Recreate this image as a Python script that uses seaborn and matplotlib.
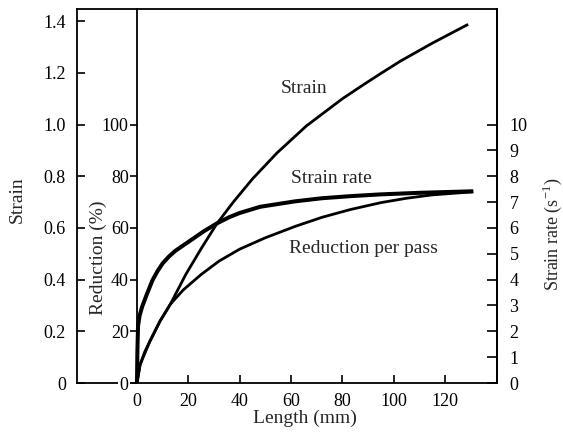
import numpy as np
import matplotlib
matplotlib.use("Agg")
import matplotlib.pyplot as plt
import seaborn as sns

# values (length in mm)
strain_len = [0, 1.2, 5, 9, 13, 19, 25, 31, 37.5, 45, 54.5, 66, 80, 88, 95, 102.5, 115, 129]
strain = [0, 0.071, 0.161, 0.24, 0.305, 0.42, 0.52, 0.615, 0.70, 0.79, 0.89, 0.995,
          1.10, 1.153, 1.198, 1.245, 1.315, 1.388]

red_len = [0, 1.2, 3, 5, 9, 13, 18, 25, 32, 40, 50, 61.6, 72, 83, 95, 105, 115, 131]
reduction = [0, 7.1, 12, 16.1, 24, 30.5, 36, 42, 47.2, 51.8, 56.2, 60.6, 64.1, 67.1,
             69.8, 71.5, 72.8, 74]

rate_len = [0, 0.15, 0.4, 1, 2, 3.9, 6, 8, 10, 12.5, 15, 20.6, 26, 31, 36, 40, 48,
            61.6, 72, 83, 95, 110, 131]
strain_rate = [0, 1.2, 2.2, 2.6, 2.95, 3.45, 3.97, 4.33, 4.63, 4.9, 5.12, 5.5, 5.87,
               6.17, 6.42, 6.58, 6.82, 7.03, 7.15, 7.23, 7.3, 7.36, 7.42]

x_ticks = [0, 20, 40, 60, 80, 100, 120]
strain_ticks = [0, 0.2, 0.4, 0.6, 0.8, 1.0, 1.2, 1.4]
strain_labels = ["0", "0.2", "0.4", "0.6", "0.8", "1.0", "1.2", "1.4"]
red_ticks = [0, 20, 40, 60, 80, 100]
rate_ticks = list(range(0, 11))

sns.set_style("ticks")
plt.rcParams["font.family"] = ["Liberation Serif", "DejaVu Serif"]
plt.rcParams["mathtext.fontset"] = "custom"
plt.rcParams["mathtext.rm"] = "Liberation Serif"

W, H = 563, 442
fig = plt.figure(figsize=(W / 100, H / 100), dpi=100)
ax = fig.add_axes([77 / W, (H - 383) / H, (497 - 77) / W, (383 - 9) / H])

ytop = 374 / 258.4
ax.set_xlim(-23.37, 140.24)
ax.set_ylim(0, ytop)

ax2 = ax.twinx()
ax2.set_ylim(0, ytop * 100)
ax3 = ax.twinx()
ax3.set_ylim(0, ytop * 10)

line_kw = dict(color="black", solid_joinstyle="round", solid_capstyle="butt")
sns.lineplot(x=strain_len, y=strain, ax=ax, lw=2.0, **line_kw)
sns.lineplot(x=red_len, y=reduction, ax=ax2, lw=2.0, **line_kw)
sns.lineplot(x=rate_len, y=strain_rate, ax=ax3, lw=2.9, **line_kw)

for a in (ax, ax2, ax3):
    a.set_xlabel("")
    a.set_ylabel("")
    for s in a.spines.values():
        s.set_linewidth(1.3)
        s.set_color("black")

# main axes: strain on left spine, length on bottom
ax.set_xticks(x_ticks)
ax.set_yticks(strain_ticks, strain_labels)
ax.tick_params(axis="both", direction="in", length=6, width=1.2, labelsize=13,
               colors="black")
ax.tick_params(axis="y", pad=8)
ax.tick_params(axis="x", pad=7)

# reduction axis sits at length = 0
for side in ("right", "top", "bottom"):
    ax2.spines[side].set_visible(False)
ax2.spines["left"].set_visible(True)
ax2.spines["left"].set_position(("data", 0))
ax2.yaxis.tick_left()
ax2.set_yticks(red_ticks)
ax2.tick_params(axis="y", direction="out", length=5, width=1.2, pad=1,
                labelsize=13, colors="black")
for lbl in ax2.get_yticklabels():
    if lbl.get_text() == "0":
        lbl.set_bbox(dict(facecolor="white", edgecolor="none", pad=1))

# strain rate on right spine
for side in ("left", "top", "bottom"):
    ax3.spines[side].set_visible(False)
ax3.set_yticks(rate_ticks)
ax3.tick_params(axis="y", direction="in", length=7, width=1.2, pad=9,
                labelsize=13, colors="black")

ax.text(65.1, 1.138, "Strain", ha="center", va="center", fontsize=14)
ax.text(75.6, 0.793, "Strain rate", ha="center", va="center", fontsize=14)
ax.text(88.4, 0.519, "Reduction per pass", ha="center", va="center", fontsize=14)

fig.text(17 / W, 1 - 200 / H, "Strain", rotation=90, ha="center", va="center",
         fontsize=14)
fig.text(98 / W, 1 - 258 / H, "Reduction (%)", rotation=90, ha="center",
         va="center", fontsize=14)
fig.text(552 / W, 1 - 234 / H, r"Strain rate (s$^{\mathregular{-1}}$)", rotation=90,
         ha="center", va="center", fontsize=13)
fig.text(305 / W, 1 - 418 / H, "Length (mm)", ha="center", va="center", fontsize=14)

fig.savefig("out.png", dpi=100)
